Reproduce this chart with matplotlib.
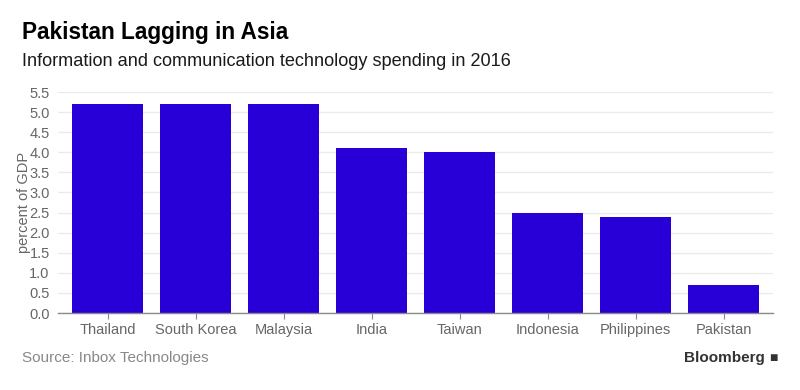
import matplotlib
matplotlib.use("Agg")
import matplotlib.pyplot as plt

categories = ["Thailand", "South Korea", "Malaysia", "India", "Taiwan",
              "Indonesia", "Philippines", "Pakistan"]
values = [5.2, 5.2, 5.2, 4.1, 4.0, 2.5, 2.4, 0.7]
yticks = [0.0, 0.5, 1.0, 1.5, 2.0, 2.5, 3.0, 3.5, 4.0, 4.5, 5.0, 5.5]

plt.rcParams['font.family'] = ['Liberation Sans', 'DejaVu Sans']

fig = plt.figure(figsize=(8, 3.9), dpi=100)
ax = fig.add_axes([0.0725, 0.1974, 0.966 - 0.0725, 0.764 - 0.1974])

x = list(range(len(categories)))
ax.bar(x, values, width=0.807, color="#2800D7", zorder=3)

ax.set_xlim(-0.5625, 7.56)
ax.set_ylim(0, 5.5)
ax.set_yticks(yticks)
ax.set_yticklabels([f"{v:.1f}" for v in yticks])
ax.set_xticks(x)
ax.set_xticklabels(categories)

ax.grid(axis="y", color="#ebebeb", linewidth=1, zorder=0)
for s in ["top", "right", "left"]:
    ax.spines[s].set_visible(False)
ax.spines["bottom"].set_color("#8a8a8a")
ax.spines["bottom"].set_linewidth(1)
ax.spines["bottom"].set_zorder(4)

ax.tick_params(axis="y", length=0, labelsize=10.5, labelcolor="#666666", pad=6)
ax.tick_params(axis="x", length=4, color="#8a8a8a", labelsize=10.5,
               labelcolor="#666666", pad=3)
ax.set_ylabel("percent of GDP", fontsize=10.5, color="#666666", labelpad=-1)

fig.text(22 / 800, 1 - 33 / 390, "Pakistan Lagging in Asia", fontsize=16.3,
         fontweight="bold", color="#000000", va="center", ha="left")
fig.text(22 / 800, 1 - 61 / 390,
         "Information and communication technology spending in 2016",
         fontsize=13.1, color="#1a1a1a", va="center", ha="left")
fig.text(22 / 800, 1 - 358 / 390, "Source: Inbox Technologies", fontsize=11,
         color="#888888", va="center", ha="left")
fig.text(765 / 800, 1 - 358 / 390, "Bloomberg", fontsize=11, fontweight="bold",
         color="#333333", va="center", ha="right")
fig.text(773 / 800, 1 - 358 / 390, "\u25A0", fontsize=10, color="#333333",
         va="center", ha="center")

fig.savefig("out.png", dpi=100, facecolor="white")
